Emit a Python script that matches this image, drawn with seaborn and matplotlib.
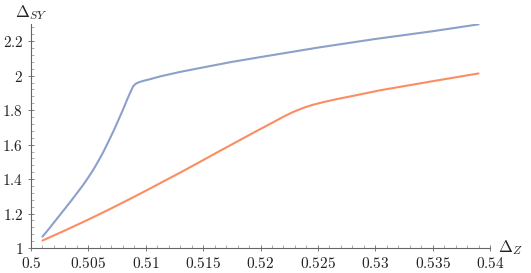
import numpy as np
import pandas as pd
import matplotlib
matplotlib.use("Agg")
import matplotlib.pyplot as plt
import matplotlib.ticker as mticker
import seaborn as sns

# curve values
blue_x = [0.501, 0.5015, 0.502, 0.5025, 0.503, 0.5035, 0.504, 0.5045, 0.505, 0.5055,
          0.506, 0.5064, 0.5068, 0.5072, 0.5076, 0.508, 0.5084, 0.5087, 0.5089, 0.5091,
          0.5094, 0.5098, 0.5105, 0.5112, 0.513, 0.515, 0.5175, 0.520, 0.525, 0.530,
          0.535, 0.539]
blue_y = [1.066, 1.106, 1.148, 1.19, 1.232, 1.274, 1.318, 1.362, 1.41, 1.462,
          1.52, 1.57, 1.625, 1.68, 1.74, 1.80, 1.865, 1.91, 1.938, 1.952,
          1.962, 1.97, 1.982, 1.995, 2.022, 2.048, 2.08, 2.108, 2.163, 2.213,
          2.258, 2.298]

orange_x = [0.501, 0.503, 0.505, 0.507, 0.5086, 0.510, 0.5115, 0.5131, 0.515, 0.5165,
            0.518, 0.5195, 0.521, 0.522, 0.5228, 0.5236, 0.5245, 0.5255, 0.5265, 0.528,
            0.5304, 0.535, 0.539]
orange_y = [1.043, 1.103, 1.165, 1.23, 1.284, 1.332, 1.385, 1.441, 1.51, 1.565,
            1.619, 1.673, 1.726, 1.762, 1.788, 1.81, 1.83, 1.847, 1.862, 1.882,
            1.915, 1.968, 2.013]

xticks = [0.5, 0.505, 0.51, 0.515, 0.52, 0.525, 0.53, 0.535, 0.54]
xtick_labels = ["0.5", "0.505", "0.51", "0.515", "0.52", "0.525", "0.53", "0.535", "0.54"]
yticks = [1, 1.2, 1.4, 1.6, 1.8, 2, 2.2]
ytick_labels = ["1", "1.2", "1.4", "1.6", "1.8", "2", "2.2"]

df = pd.concat([
    pd.DataFrame({"x": blue_x, "y": blue_y, "series": "blue"}),
    pd.DataFrame({"x": orange_x, "y": orange_y, "series": "orange"}),
])

sns.set_theme(style="white")
set2 = sns.color_palette("Set2")
plt.rcParams["mathtext.fontset"] = "cm"
plt.rcParams["font.family"] = ["DejaVu Serif"]

fig = plt.figure(figsize=(5.31, 2.73), dpi=100)
ax = fig.add_axes([31 / 531, 25 / 273, 459 / 531, 224 / 273])

sns.lineplot(data=df, x="x", y="y", hue="series", palette=[set2[2], set2[1]],
             linewidth=1.5, legend=False, ax=ax, sort=False)

ax.set_xlim(0.5, 0.54)
ax.set_ylim(1, 2.3)
ax.set_xlabel("")
ax.set_ylabel("")

for s in ["top", "right"]:
    ax.spines[s].set_visible(False)
for s in ["left", "bottom"]:
    ax.spines[s].set_color("#666666")
    ax.spines[s].set_linewidth(0.8)

ax.set_xticks(xticks)
ax.set_xticklabels(["$" + t + "$" for t in xtick_labels])
ax.set_yticks(yticks)
ax.set_yticklabels(["$" + t + "$" for t in ytick_labels])
ax.xaxis.set_minor_locator(mticker.MultipleLocator(0.001))
ax.yaxis.set_minor_locator(mticker.MultipleLocator(0.04))
ax.tick_params(which="major", direction="inout", length=5, width=0.6, color="#666666",
               labelsize=11, pad=3, labelcolor="#222222")
ax.tick_params(which="minor", direction="in", length=2.5, width=0.5, color="#888888")
ax.tick_params(axis="x", which="both", bottom=True)
ax.tick_params(axis="y", which="both", left=True)

ax.text(0.0, 1.05, r"$\Delta_{SY}$", transform=ax.transAxes, ha="center", va="center",
        fontsize=12, color="#222222")
ax.text(1.044, 0.0, r"$\Delta_{Z}$", transform=ax.transAxes, ha="center", va="center",
        fontsize=12, color="#222222")

fig.savefig("out.png", dpi=100)
